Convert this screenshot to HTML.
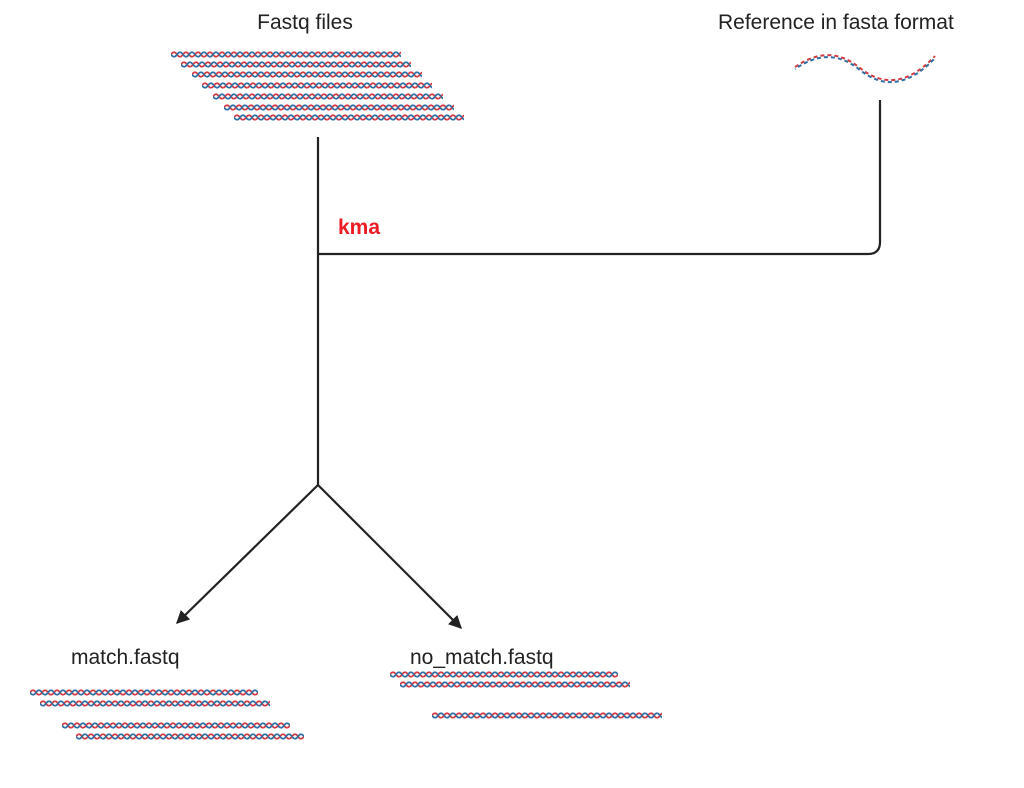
<!DOCTYPE html>
<html><head><meta charset="utf-8"><style>
html,body{margin:0;padding:0;background:#fff;width:1024px;height:788px;overflow:hidden}
text{font-family:"Liberation Sans",sans-serif}
</style></head><body>
<svg width="1024" height="788" xmlns="http://www.w3.org/2000/svg">
<defs>
<pattern id="h" x="0" y="0" width="12" height="9" patternUnits="userSpaceOnUse">
<path d="M0 4.5 Q3 0 6 4.5 T12 4.5" fill="none" stroke="#d23a42" stroke-width="1.8"/>
<path d="M0 4.5 Q3 9 6 4.5 T12 4.5" fill="none" stroke="#2f6fa3" stroke-width="1.8"/>
</pattern>
<marker id="a" viewBox="0 0 10 10" refX="9" refY="5" markerWidth="6" markerHeight="6" orient="auto"><path d="M0 0 L10 5 L0 10 z" fill="#222"/></marker>
</defs>
<text x="305" y="29" font-size="21" text-anchor="middle" fill="#222">Fastq files</text>
<text x="718" y="29" font-size="21" fill="#222">Reference in fasta format</text>
<text x="71" y="664" font-size="21" fill="#222">match.fastq</text>
<text x="410" y="664" font-size="21" fill="#222">no_match.fastq</text>
<text x="338" y="234" font-size="21" font-weight="bold" fill="#ee1c25">kma</text>
<g>
<g transform="translate(171,50)"><rect width="230" height="9" fill="url(#h)"/></g>
<g transform="translate(181,60)"><rect width="230" height="9" fill="url(#h)"/></g>
<g transform="translate(192,70)"><rect width="230" height="9" fill="url(#h)"/></g>
<g transform="translate(202,81)"><rect width="230" height="9" fill="url(#h)"/></g>
<g transform="translate(213,92)"><rect width="230" height="9" fill="url(#h)"/></g>
<g transform="translate(224,103)"><rect width="230" height="9" fill="url(#h)"/></g>
<g transform="translate(234,113)"><rect width="230" height="9" fill="url(#h)"/></g>
<g transform="translate(30,688)"><rect width="228" height="9" fill="url(#h)"/></g>
<g transform="translate(40,699)"><rect width="230" height="9" fill="url(#h)"/></g>
<g transform="translate(62,721)"><rect width="228" height="9" fill="url(#h)"/></g>
<g transform="translate(76,732)"><rect width="228" height="9" fill="url(#h)"/></g>
<g transform="translate(390,670)"><rect width="228" height="9" fill="url(#h)"/></g>
<g transform="translate(400,680)"><rect width="230" height="9" fill="url(#h)"/></g>
<g transform="translate(432,711)"><rect width="230" height="9" fill="url(#h)"/></g>
</g>
<path d="M795 67 C820 50 840 52 860 68 S 905 88 935 56" fill="none" stroke="#d23a42" stroke-width="2" stroke-dasharray="4 3"/>
<path d="M795 69 C820 52 840 54 860 70 S 905 90 935 58" fill="none" stroke="#2f6fa3" stroke-width="2" stroke-dasharray="4 3" stroke-dashoffset="3.5"/>
<g stroke="#222" stroke-width="2.2" fill="none">
<line x1="318" y1="137" x2="318" y2="485"/>
<path d="M318 254 H868 Q880 254 880 242 V100"/>
<line x1="318" y1="485" x2="177" y2="623" marker-end="url(#a)"/>
<line x1="318" y1="485" x2="461" y2="628" marker-end="url(#a)"/>
</g>
</svg>
</body></html>
